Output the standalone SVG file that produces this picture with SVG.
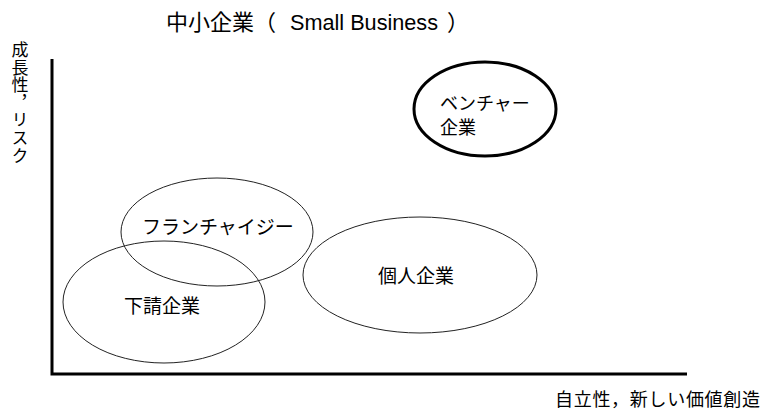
<svg xmlns="http://www.w3.org/2000/svg" width="767" height="411" viewBox="0 0 767 411">
<style>
text{font-family:"Liberation Sans","Noto Sans CJK JP",sans-serif;fill:#000}
.lbl{font-size:19px}
.ax{font-size:18px}
.thin{fill:none;stroke:#222;stroke-width:1}
.bold{fill:none;stroke:#000;stroke-width:3}
</style>
<rect width="767" height="411" fill="#fff"/>
<g id="title" style="font-size:22px">
<text x="166" y="30">中小企業（</text>
<text x="290" y="30" textLength="148" lengthAdjust="spacingAndGlyphs">Small Business</text>
<text x="447" y="30">）</text>
</g>
<text id="yaxis-label" x="18" y="41" style="font-size:17px;writing-mode:vertical-rl;letter-spacing:0.6px">成長性，リスク</text>
<text id="xaxis-label" class="ax" x="555" y="406" textLength="205">自立性，新しい価値創造</text>
<g id="axes">
<polyline points="52,59 52,374 687,374" fill="none" stroke="#000" stroke-width="3"/>
</g>
<g id="franchisee">
<ellipse class="thin" cx="217" cy="232" rx="96" ry="54"/>
<text class="lbl" x="142" y="234">フランチャイジー</text>
</g>
<g id="subcontractor">
<ellipse class="thin" cx="164" cy="302" rx="101" ry="61"/>
<text class="lbl" x="124" y="313">下請企業</text>
</g>
<g id="individual">
<ellipse class="thin" cx="420" cy="275" rx="117" ry="58"/>
<text class="lbl" x="378" y="283">個人企業</text>
</g>
<g id="venture">
<ellipse class="bold" cx="485" cy="109" rx="71" ry="47"/>
<text class="lbl" x="440" y="110" style="font-size:18px">ベンチャー</text>
<text class="lbl" x="440" y="134" style="font-size:18px">企業</text>
</g>
</svg>
